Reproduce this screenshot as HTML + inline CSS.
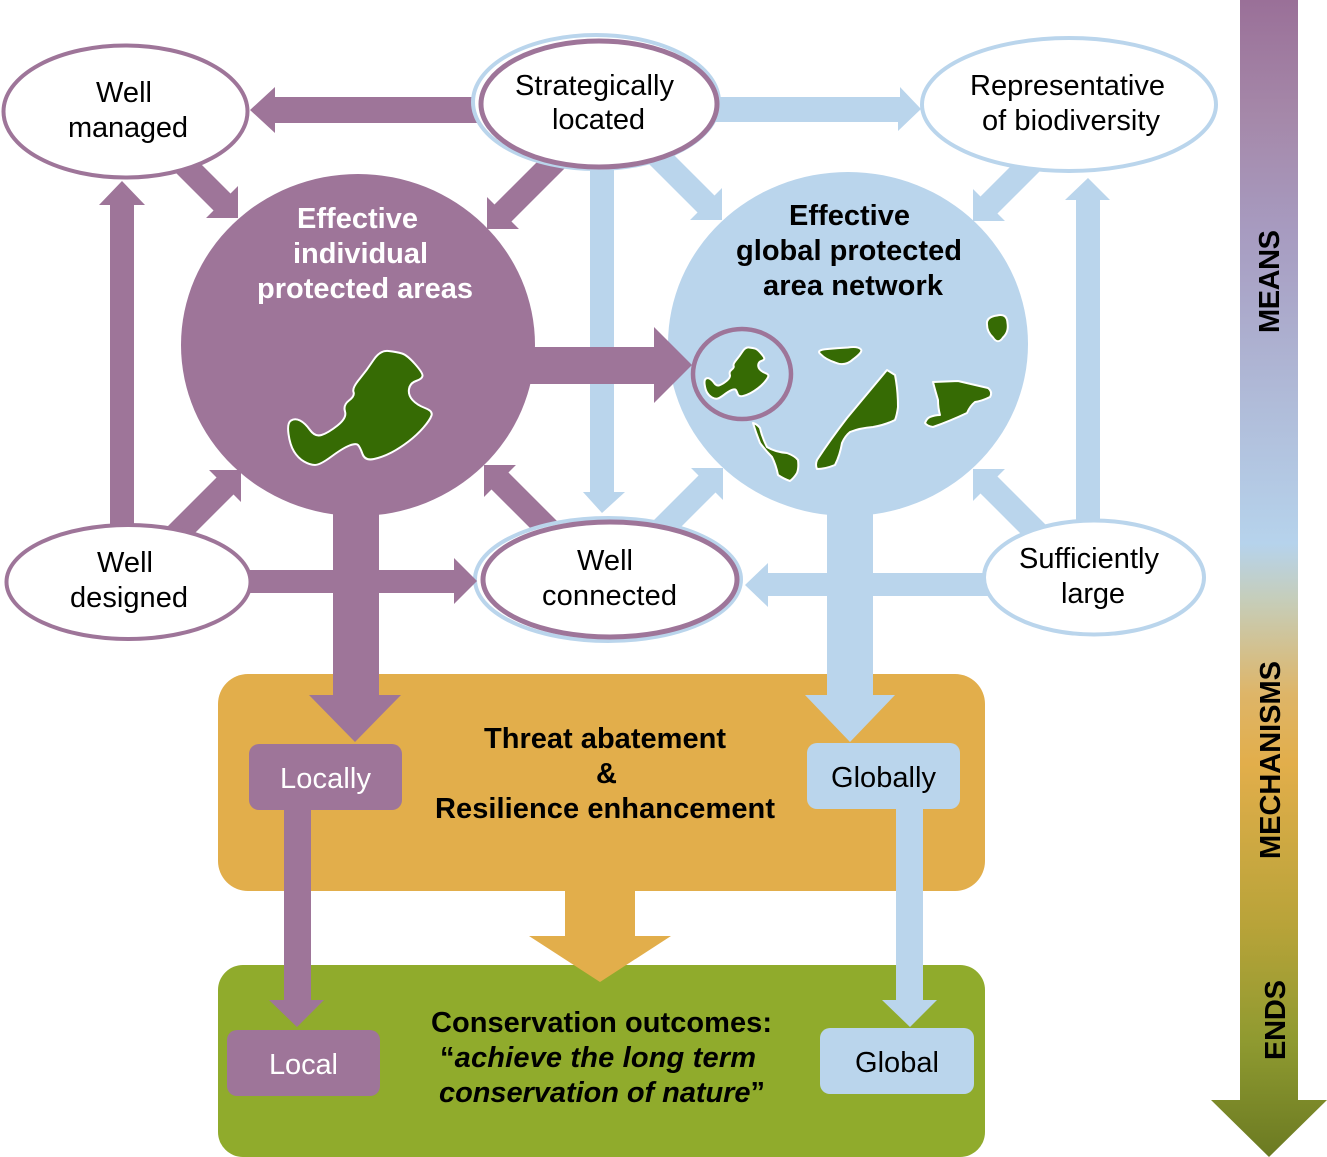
<!DOCTYPE html>
<html><head><meta charset="utf-8"><style>
html,body{margin:0;padding:0;background:#fff}
svg{display:block}
text{font-family:"Liberation Sans",sans-serif;font-size:29px;fill:#000}
.b{font-weight:bold}
.w{fill:#fff}
</style></head><body>
<svg width="1327" height="1157" viewBox="0 0 1327 1157" xmlns="http://www.w3.org/2000/svg">
<defs>
<linearGradient id="g" gradientUnits="userSpaceOnUse" x1="0" y1="0" x2="0" y2="1157">
<stop offset="0" stop-color="#9a7098"/>
<stop offset=".1" stop-color="#a588a9"/>
<stop offset=".2" stop-color="#a79bc0"/>
<stop offset=".35" stop-color="#b0bcd9"/>
<stop offset=".47" stop-color="#b6d3ec"/>
<stop offset=".52" stop-color="#c6cdb8"/>
<stop offset=".6" stop-color="#deb568"/>
<stop offset=".66" stop-color="#e2ae4b"/>
<stop offset=".8" stop-color="#b8a339"/>
<stop offset=".9" stop-color="#8f9a30"/>
<stop offset="1" stop-color="#6b7a22"/>
</linearGradient>
<path id="d" d="M-110,-12H-22.6V-22.6L0,0L-22.6,22.6V12H-110Z"/>
</defs>

<path d="M1240,0H1298V1100H1327L1269,1157L1211,1100H1240Z" fill="url(#g)"/>

<rect x="218" y="674" width="767" height="217" rx="30" fill="#e2ae4b"/>
<rect x="218" y="965" width="767" height="192" rx="25" fill="#90ab2c"/>
<path d="M565,885H635V936H671L600,982L529,936H565Z" fill="#e2ae4b"/>

<g fill="#bad5ec">
<path d="M590,165H614V492H625L602,513L583,492H590Z"/>
<path d="M715,97H900V87L921,109L898,131V122H715Z"/>
<use href="#d" transform="translate(722,220) rotate(45)"/>
<use href="#d" transform="translate(973,221) rotate(135)"/>
<use href="#d" transform="translate(723,468) rotate(-45)"/>
<use href="#d" transform="translate(973,469) rotate(-135)"/>
<path d="M1076,530V200H1065L1088,178L1110,200H1100V530Z"/>
<path d="M1000,573H768V563L745,585L768,607V596H1000Z"/>
</g>
<g fill="#9e7599">
<path d="M490,97H275V87L250,110L275,133V123H490Z"/>
<use href="#d" transform="translate(238,218) rotate(45)"/>
<use href="#d" transform="translate(487,229) rotate(135)"/>
<use href="#d" transform="translate(241,470) rotate(-45)"/>
<use href="#d" transform="translate(484,465) rotate(-135)"/>
<path d="M110,535V205H99L122,181L145,205H134V535Z"/>
</g>

<ellipse cx="848" cy="344" rx="180" ry="172" fill="#bad5ec"/>
<ellipse cx="358" cy="345" rx="177" ry="171" fill="#9e7599"/>

<path d="M827,505H873V695H895L850,742L805,695H827Z" fill="#bad5ec"/>
<path d="M333,505H379V695H401L355,742L309,695H333Z" fill="#9e7599"/>
<path d="M525,347H654V327L692,365L654,403V384H525Z" fill="#9e7599"/>
<ellipse cx="742" cy="374" rx="49" ry="45" fill="none" stroke="#9e7599" stroke-width="4.5"/>

<g fill="#366b04" stroke="#fff" stroke-width="2" stroke-linejoin="round">
<path d="M388.5,351Q397,352 402,353.5Q407,355 415,364Q423,373 422.5,376Q422,379 416,381Q410,383 409,389Q408,395 412.5,400Q417,405 425,408Q433,411 431.5,415.5Q430,420 423.5,427.5Q417,435 408.5,441.5Q400,448 391.5,452.5Q383,457 374,459Q365,461 362.5,454Q360,447 358,445Q356,443 349.5,445.5Q343,448 331.5,456.5Q320,465 315,465Q310,465 304,461.5Q298,458 294,451.5Q290,445 288.5,434Q287,423 291,420.5Q295,418 300,420.5Q305,423 310,430Q315,437 321.5,435Q328,433 337.5,425.5Q347,418 345,411.5Q343,405 349,400.5Q355,396 353.5,392Q352,388 359.5,379Q367,370 373.5,360Q380,350 388.5,351Z"/>
<path d="M997,315.5Q1007,313 1007.5,323Q1009,332 1003,337.5Q998,345 993,337.5Q987,332 987,324.5Q986,317 997,315.5Z"/>
<path d="M827.5,349Q838,348 848,347.5Q858,346 861,349.5Q863,352 853.5,359Q845,367 835,362.5Q825,359 821,354.5Q815,350 827.5,349Z"/>
<path d="M887,370L895,375Q898,390 898,407Q897,415 895,420Q885,425 873,427Q860,428 850,432Q845,436 842,443Q840,455 835,465Q825,469 817,469Q815,465 817,460Q830,440 847,418Z"/>
<path d="M933,382L958,381Q975,385 988,388Q993,392 990,397Q982,401 975,402Q970,406 967,413Q950,421 933,427Q927,426 925,423Q927,418 930,417Q935,415 940,415Q938,408 938,400Q935,390 933,382Z"/>
<path d="M753,423Q757,424 760,428Q762,437 767,447Q775,452 787,453Q795,456 798,460Q799,468 797,473Q794,478 790,481Q784,479 778,475Q776,465 772,457Q766,451 760,443Q756,433 753,423Z"/>
<path transform="translate(576.3,189.5) scale(.445 .45)" vector-effect="non-scaling-stroke" d="M388.5,351Q397,352 402,353.5Q407,355 415,364Q423,373 422.5,376Q422,379 416,381Q410,383 409,389Q408,395 412.5,400Q417,405 425,408Q433,411 431.5,415.5Q430,420 423.5,427.5Q417,435 408.5,441.5Q400,448 391.5,452.5Q383,457 374,459Q365,461 362.5,454Q360,447 358,445Q356,443 349.5,445.5Q343,448 331.5,456.5Q320,465 315,465Q310,465 304,461.5Q298,458 294,451.5Q290,445 288.5,434Q287,423 291,420.5Q295,418 300,420.5Q305,423 310,430Q315,437 321.5,435Q328,433 337.5,425.5Q347,418 345,411.5Q343,405 349,400.5Q355,396 353.5,392Q352,388 359.5,379Q367,370 373.5,360Q380,350 388.5,351Z"/>
</g>

<g fill="#fff">
<ellipse cx="125.5" cy="111.5" rx="122" ry="66" stroke="#9e7599" stroke-width="4"/>
<ellipse cx="596" cy="102" rx="123" ry="67" stroke="#bad5ec" stroke-width="4"/>
<ellipse cx="599" cy="104" rx="118" ry="63" stroke="#9e7599" stroke-width="5"/>
<ellipse cx="1069" cy="104.5" rx="147" ry="66.5" stroke="#bad5ec" stroke-width="4"/>
<ellipse cx="128.5" cy="582" rx="122" ry="57" stroke="#9e7599" stroke-width="4"/>
<ellipse cx="608" cy="579.5" rx="133" ry="61.5" stroke="#bad5ec" stroke-width="4"/>
<ellipse cx="610" cy="579.5" rx="127" ry="57.5" stroke="#9e7599" stroke-width="5"/>
<ellipse cx="1094" cy="577.5" rx="110" ry="57" stroke="#bad5ec" stroke-width="4"/>
</g>
<path d="M250,570H454V558L477,581L454,604V593H250Z" fill="#9e7599"/>

<rect x="249" y="744" width="153" height="66" rx="10" fill="#9e7599"/>
<rect x="807" y="743" width="153" height="66" rx="10" fill="#bad5ec"/>
<path d="M284,805H311V1000H324L297,1027L269,1000H284Z" fill="#9e7599"/>
<path d="M896,805H923V1000H937L910,1027L882,1000H896Z" fill="#bad5ec"/>
<rect x="227" y="1030" width="153" height="66" rx="10" fill="#9e7599"/>
<rect x="820" y="1028" width="154" height="66" rx="10" fill="#bad5ec"/>

<text x="96" y="102" textLength="56">Well</text>
<text x="68" y="137" textLength="120">managed</text>
<text x="515" y="95" textLength="159">Strategically</text>
<text x="552" y="129" textLength="93">located</text>
<text x="970" y="95" textLength="195">Representative</text>
<text x="982" y="130" textLength="178">of biodiversity</text>
<text x="97" y="572" textLength="56">Well</text>
<text x="70" y="607" textLength="118">designed</text>
<text x="577" y="570" textLength="56">Well</text>
<text x="542" y="605" textLength="135">connected</text>
<text x="1019" y="568" textLength="140">Sufficiently</text>
<text x="1061" y="603" textLength="64">large</text>

<text class="b w" x="297" y="228" textLength="121">Effective</text>
<text class="b w" x="293" y="263" textLength="135">individual</text>
<text class="b w" x="257" y="298" textLength="216">protected areas</text>
<text class="b" x="789" y="225" textLength="121">Effective</text>
<text class="b" x="736" y="260" textLength="226">global protected</text>
<text class="b" x="763" y="295" textLength="180">area network</text>

<text class="b" x="484" y="748" textLength="242">Threat abatement</text>
<text class="b" x="596" y="783">&amp;</text>
<text class="b" x="435" y="818" textLength="340">Resilience enhancement</text>

<text class="w" x="280" y="788" textLength="91">Locally</text>
<text x="831" y="787" textLength="105">Globally</text>
<text class="w" x="269" y="1074" textLength="69">Local</text>
<text x="855" y="1072" textLength="84">Global</text>

<text class="b" x="431" y="1032" textLength="341">Conservation outcomes:</text>
<text class="b" x="440" y="1067" textLength="316">“<tspan font-style="italic">achieve the long term</tspan></text>
<text class="b" x="439" y="1102" textLength="326" font-style="italic">conservation of nature<tspan font-style="normal">”</tspan></text>

<text class="b" transform="translate(1279,333) rotate(-90)" textLength="103">MEANS</text>
<text class="b" transform="translate(1280,859) rotate(-90)" textLength="198">MECHANISMS</text>
<text class="b" transform="translate(1285,1060) rotate(-90)" textLength="80">ENDS</text>
</svg>
</body></html>
